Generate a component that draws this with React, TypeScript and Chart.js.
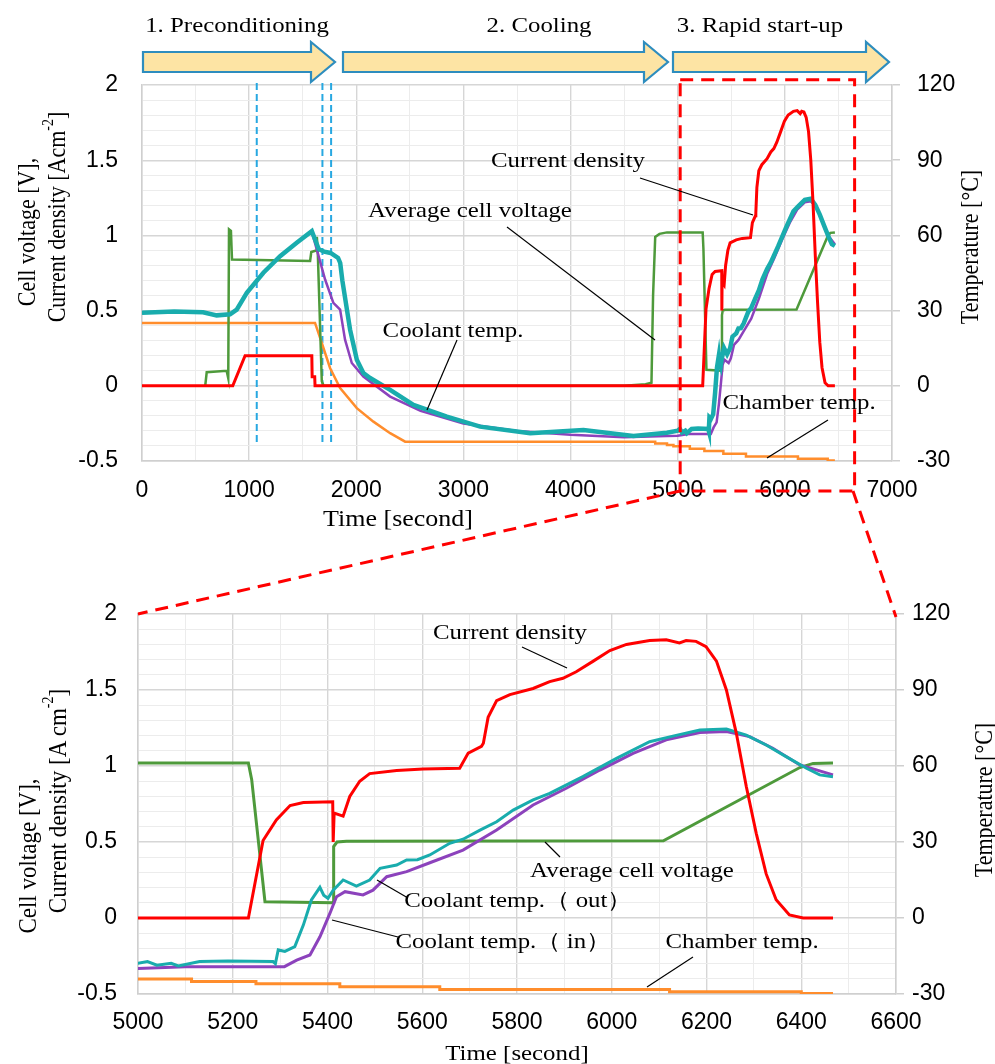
import React, { useEffect, useRef } from "react";
import { Chart, registerables } from "chart.js";

Chart.register(...registerables);

type P = [number, number];

// time [s], current density [A cm-2]
const currentDensity: P[] = [
  [0, 0], [847, 0], [962, 0.2], [1585, 0.2], [1588, 0.06], [1612, 0.06], [1615, 0],
  [5233, 0], [5247, 0.23], [5264, 0.51], [5292, 0.645], [5321, 0.74], [5349, 0.76],
  [5411, 0.765], [5412, 0.5], [5414, 0.69], [5433, 0.67], [5447, 0.8], [5468, 0.9],
  [5489, 0.95], [5546, 0.97], [5602, 0.98], [5679, 0.985], [5697, 1.085], [5725, 1.13],
  [5729, 1.15], [5739, 1.32], [5757, 1.43], [5785, 1.47], [5834, 1.51], [5869, 1.555],
  [5897, 1.577], [5925, 1.62], [5961, 1.69], [5996, 1.76], [6031, 1.8], [6080, 1.825],
  [6115, 1.83], [6143, 1.81], [6157, 1.825], [6178, 1.82], [6199, 1.785], [6221, 1.69],
  [6242, 1.5], [6263, 1.215], [6284, 0.865], [6305, 0.557], [6326, 0.29], [6347, 0.12],
  [6375, 0.02], [6404, 0], [6467, 0],
];

// time [s], average cell voltage [V]
const cellVoltage: P[] = [
  [590, 0], [604, 0.09], [790, 0.1], [805, 0.05], [812, 1.04], [830, 1.03], [840, 0.84],
  [1569, 0.83], [1580, 0.89], [1625, 0.9], [1632, 0.99], [1640, 0.9], [1678, 0.03],
  [1695, 0], [4500, 0], [4700, 0.01], [4755, 0.02], [4770, 0.6], [4790, 0.99],
  [4830, 1.01], [4900, 1.02], [5233, 1.02], [5240, 0.91], [5268, 0.107], [5412, 0.1],
  [5413, 0.47], [5420, 0.5], [5440, 0.505], [6109, 0.508], [6397, 0.99], [6425, 1.017],
  [6467, 1.02],
];

// time [s], coolant temperature (out) [°C]
const coolantOut: P[] = [
  [0, 29.1], [300, 29.6], [570, 29.3], [697, 28.1], [822, 28.5], [884, 30.4], [978, 37.1],
  [1133, 45.1], [1289, 51.7], [1444, 57.1], [1585, 61.7], [1650, 54.5], [1700, 53.5],
  [1760, 53], [1830, 51], [1850, 49], [1870, 42], [1942, 22.4], [2005, 10.4], [2066, 5.1],
  [2129, 3.1], [2316, -1.6], [2533, -7.6], [2845, -12.3], [3156, -16.3], [3623, -18.9],
  [4120, -17.6], [4587, -20], [4899, -18.7],
  [5000, -17.9], [5020, -17.2], [5040, -18.6], [5070, -17.9], [5085, -18.9], [5130, -17.2],
  [5190, -17.0], [5285, -17.2], [5290, -18], [5296, -12.6], [5310, -13.2], [5331, -11.3],
  [5349, -2.8], [5366, 7.1], [5384, 12.1], [5392, 9], [5401, 7.8], [5412, 11.0],
  [5433, 15.0], [5461, 12.6], [5489, 15], [5511, 19.6], [5546, 20.9], [5567, 22.9],
  [5590, 23], [5616, 24.9], [5658, 29.5], [5686, 31.1], [5722, 34.7], [5757, 38.0],
  [5792, 42.6], [5834, 46.6], [5869, 49.2], [5939, 55.8], [6010, 63.0], [6080, 69.6],
  [6129, 71.8], [6186, 74.2], [6242, 74.6], [6284, 72.2], [6326, 68.3], [6368, 63.7],
  [6411, 59.1], [6439, 56.5], [6467, 55.8],
];

// time [s], coolant temperature (in) [°C]
const coolantIn: P[] = [
  [0, 29.1], [300, 29.6], [570, 29.3], [697, 28.1], [822, 28.5], [884, 30.4], [978, 37.1],
  [1133, 45.1], [1289, 51.7], [1444, 57.1], [1585, 61.5], [1631, 54.4], [1709, 42.4],
  [1786, 33.1], [1849, 30.4], [1895, 18.4], [1958, 9.1], [2066, 3.7], [2316, -4.3],
  [2600, -10], [3000, -15], [3500, -18], [4000, -19.5], [4500, -20.5], [4900, -20],
  [5000, -19.9], [5100, -19.2], [5309, -19.2], [5335, -16.6], [5363, -14.6], [5384, -7.4],
  [5405, 1.8], [5419, 8.4], [5437, 10.4], [5475, 9.1], [5496, 11.0], [5525, 16.3],
  [5567, 18.3], [5616, 21.8], [5686, 26.8], [5757, 34.7], [5834, 44.6], [5904, 51.2],
  [5975, 58.4], [6045, 65], [6115, 70.3], [6186, 73.2], [6242, 73.6], [6291, 71.6],
  [6340, 67], [6397, 60.4], [6467, 56.5],
];

// time [s], chamber temperature [°C]
const chamberTemp: P[] = [
  [0, 25.1], [1615, 25.1], [1678, 17.1], [1755, 7.1], [1849, -0.9], [2005, -8.9],
  [2160, -14.3], [2316, -18.9], [2456, -22.3], [4790, -22.3], [4790, -23.0], [4900, -23.0],
  [4900, -23.6], [4960, -23.6], [4960, -24.1], [5113, -24.1], [5113, -25.1], [5249, -25.1],
  [5249, -26.0], [5426, -26.0], [5426, -27.1], [5637, -27.1], [5637, -28.2], [6122, -28.2],
  [6122, -29.1], [6400, -29.1], [6400, -29.8], [6467, -29.8],
];

// axis ranges / ticks
const leftRange = [-0.5, 2];
const rightRange = [-30, 120];
const topTimeRange = [0, 7000];
const bottomTimeRange = [5000, 6600];

// markers in the overview chart
const markerTimes = [1071, 1684, 1765];
const zoomWindow = [5023, 6651];

const RED = "#FF0000";
const GREEN = "#4E9A3B";
const CYAN = "#19ACAD";
const PURPLE = "#8C42BC";
const ORANGE = "#FF8D2C";
const GRID_MAJOR = "#d6d6d6";
const GRID_MINOR = "#ececec";
const SANS = "'Liberation Sans', Arial, Helvetica, sans-serif";
const SERIF = "'Liberation Serif', 'Times New Roman', serif";

type Opts = {
  xMin: number; xMax: number; xStep: number; xMajor: number;
  padTop: number; xH: number; leftW: number; rightW: number;
  xPad: number; yPad: number; y2Pad: number;
  w: { red: number; cyan: number; purple: number; green: number; orange: number };
  plugins?: any[];
};

const isMajorY = (v: number) => Math.abs(v * 2 - Math.round(v * 2)) < 1e-6;

function buildChart(canvas: HTMLCanvasElement, o: Opts) {
  const toXY = (a: P[]) => a.map(([x, y]) => ({ x, y }));
  const ds = (label: string, data: P[], color: string, width: number, axis: string) => ({
    label, data: toXY(data), borderColor: color, backgroundColor: color,
    borderWidth: width, pointRadius: 0, pointHoverRadius: 0, tension: 0,
    yAxisID: axis, fill: false,
  });
  const tickFont = { family: SANS, size: 23 };
  return new Chart(canvas, {
    type: "line",
    data: {
      datasets: [
        ds("Current density", currentDensity, RED, o.w.red, "y"),
        ds("Coolant temp. (out)", coolantOut, CYAN, o.w.cyan, "y2"),
        ds("Coolant temp. (in)", coolantIn, PURPLE, o.w.purple, "y2"),
        ds("Average cell voltage", cellVoltage, GREEN, o.w.green, "y"),
        ds("Chamber temp.", chamberTemp, ORANGE, o.w.orange, "y2"),
      ] as any,
    },
    options: {
      responsive: false,
      animation: false,
      events: [],
      layout: { padding: { top: o.padTop, left: 0, right: 0, bottom: 0 } },
      plugins: { legend: { display: false }, tooltip: { enabled: false } },
      scales: {
        x: {
          type: "linear",
          min: o.xMin, max: o.xMax,
          afterFit: (s: any) => { s.height = o.xH; },
          ticks: {
            stepSize: o.xStep, autoSkip: false, maxRotation: 0, minRotation: 0,
            padding: o.xPad, font: tickFont, color: "#000",
            callback: (v: any) => (Math.round(v) % o.xMajor === 0 ? String(Math.round(v)) : ""),
          },
          grid: {
            drawTicks: false,
            color: (c: any) => (Math.round(c.tick?.value ?? 0) % o.xMajor === 0 ? GRID_MAJOR : GRID_MINOR),
            lineWidth: (c: any) => (Math.round(c.tick?.value ?? 0) % o.xMajor === 0 ? 1.4 : 1),
          },
          border: { display: true, color: "#cfcfcf", width: 1.5 },
        },
        y: {
          type: "linear", position: "left",
          min: leftRange[0], max: leftRange[1],
          afterFit: (s: any) => { s.width = o.leftW; },
          ticks: {
            stepSize: 0.1, autoSkip: false, padding: o.yPad, font: tickFont, color: "#000",
            callback: (v: any) => {
              const r = Math.round(Number(v) * 10);
              return r % 5 === 0 ? String(r / 10) : "";
            },
          },
          grid: {
            drawTicks: false,
            color: (c: any) => (isMajorY(c.tick?.value ?? 0) ? GRID_MAJOR : GRID_MINOR),
            lineWidth: (c: any) => (isMajorY(c.tick?.value ?? 0) ? 1.4 : 1),
          },
          border: { display: true, color: "#cfcfcf", width: 1.5 },
        },
        y2: {
          type: "linear", position: "right",
          min: rightRange[0], max: rightRange[1],
          afterFit: (s: any) => { s.width = o.rightW; },
          ticks: { stepSize: 30, autoSkip: false, padding: o.y2Pad, font: tickFont, color: "#000" },
          grid: { drawOnChartArea: false, drawTicks: true, tickLength: 8, color: "#cfcfcf", lineWidth: 1.5 },
          border: { display: true, color: "#cfcfcf", width: 1.5 },
        },
      },
    } as any,
    plugins: o.plugins || [],
  });
}

const overviewMarks = {
  id: "overviewMarks",
  beforeDatasetsDraw(chart: any) {
    const { ctx, scales } = chart;
    const x = scales.x, y = scales.y;
    ctx.save();
    ctx.strokeStyle = "#27A8E1";
    ctx.lineWidth = 2;
    ctx.setLineDash([7, 4]);
    markerTimes.forEach((t) => {
      const px = x.getPixelForValue(t);
      ctx.beginPath();
      ctx.moveTo(px, y.getPixelForValue(2.013));
      ctx.lineTo(px, y.getPixelForValue(-0.39));
      ctx.stroke();
    });
    ctx.restore();
  },
  afterDraw(chart: any) {
    const { ctx, scales } = chart;
    const x = scales.x, y = scales.y;
    const l = x.getPixelForValue(zoomWindow[0]);
    const r = x.getPixelForValue(zoomWindow[1]);
    const t = y.getPixelForValue(2.035);
    const b = y.getPixelForValue(-0.7);
    ctx.save();
    ctx.strokeStyle = RED;
    ctx.lineWidth = 3;
    ctx.setLineDash([13, 8]);
    ctx.strokeRect(l, t, r - l, b - t);
    ctx.restore();
  },
};

function T(props: { x: number; y: number; size?: number; sx?: number; children: any }) {
  const { x, y, size = 22, sx = 1.13, children } = props;
  return (
    <text
      transform={`translate(${x} ${y}) scale(${sx} 1)`}
      textAnchor="middle"
      dominantBaseline="central"
      fontFamily={SERIF}
      fontSize={size}
      fill="#000"
    >
      {children}
    </text>
  );
}

function VT(props: { x: number; y: number; size?: number; children: any }) {
  const { x, y, size = 22, children } = props;
  return (
    <text
      transform={`translate(${x} ${y}) rotate(-90) scale(1 1.12)`}
      textAnchor="middle"
      dominantBaseline="central"
      fontFamily={SERIF}
      fontSize={size}
      fill="#000"
    >
      {children}
    </text>
  );
}

const arrowPts = (x0: number, x1: number, tip: number) =>
  `${x0},52 ${x1},52 ${x1},42 ${tip},62 ${x1},82 ${x1},72 ${x0},72`;

export default function App() {
  const topRef = useRef<HTMLCanvasElement>(null);
  const botRef = useRef<HTMLCanvasElement>(null);

  useEffect(() => {
    const c1 = buildChart(topRef.current!, {
      xMin: topTimeRange[0], xMax: topTimeRange[1], xStep: 500, xMajor: 1000,
      padTop: 85, xH: 540 - 461, leftW: 142, rightW: 995 - 892,
      xPad: 16, yPad: 24, y2Pad: 17,
      w: { red: 3, cyan: 4.5, purple: 2.5, green: 2.5, orange: 2.5 },
      plugins: [overviewMarks],
    });
    const c2 = buildChart(botRef.current!, {
      xMin: bottomTimeRange[0], xMax: bottomTimeRange[1], xStep: 100, xMajor: 200,
      padTop: 614 - 540, xH: 524 - (994 - 540), leftW: 138, rightW: 995 - 896,
      xPad: 15, yPad: 21, y2Pad: 8,
      w: { red: 3, cyan: 3, purple: 3, green: 3, orange: 3 },
    });
    return () => {
      c1.destroy();
      c2.destroy();
    };
  }, []);

  return (
    <div style={{ position: "absolute", left: 0, top: 0, width: 995, height: 1064, background: "#fff", overflow: "hidden" }}>
      <canvas ref={topRef} width={995} height={540} style={{ position: "absolute", left: 0, top: 0, width: 995, height: 540 }} />
      <canvas ref={botRef} width={995} height={524} style={{ position: "absolute", left: 0, top: 540, width: 995, height: 524 }} />
      <svg width={995} height={1064} style={{ position: "absolute", left: 0, top: 0, pointerEvents: "none" }}>
        {/* phase arrows */}
        <g fill="#FDE4A4" stroke="#2E8DBE" strokeWidth={2.2} strokeLinejoin="miter">
          <polygon points={arrowPts(143, 311, 335)} />
          <polygon points={arrowPts(343, 644, 668)} />
          <polygon points={arrowPts(673, 866, 889)} />
        </g>
        <T x={237} y={25}>1. Preconditioning</T>
        <T x={539} y={25}>2. Cooling</T>
        <T x={760} y={25}>3. Rapid start-up</T>

        {/* zoom connectors */}
        <g stroke={RED} strokeWidth={3} strokeDasharray="13 8" fill="none">
          <line x1={680} y1={491} x2={138} y2={614} />
          <line x1={853} y1={491} x2={896} y2={617} />
        </g>

        {/* leader lines */}
        <g stroke="#000" strokeWidth={1.2}>
          <line x1={640} y1={178} x2={753} y2={215} />
          <line x1={507} y1={227} x2={655} y2={340} />
          <line x1={457} y1={340} x2={427} y2={410} />
          <line x1={828} y1={420} x2={767} y2={458} />
          <line x1={522} y1={647} x2={567} y2={668} />
          <line x1={545} y1={842} x2={560} y2={857} />
          <line x1={377} y1={880} x2={408} y2={898} />
          <line x1={332} y1={920} x2={398} y2={937} />
          <line x1={693} y1={957} x2={647} y2={987} />
        </g>

        {/* top chart annotations */}
        <T x={568} y={160}>Current density</T>
        <T x={470} y={210}>Average cell voltage</T>
        <T x={453} y={330}>Coolant temp.</T>
        <T x={799} y={402}>Chamber temp.</T>

        {/* bottom chart annotations */}
        <T x={510} y={632}>Current density</T>
        <T x={632} y={870}>Average cell voltage</T>
        <T x={518} y={900}>Coolant temp.（ out）</T>
        <T x={503} y={941}>Coolant temp.（ in）</T>
        <T x={742} y={941}>Chamber temp.</T>

        {/* axis titles, top chart */}
        <T x={398} y={518} size={23}>Time [second]</T>
        <VT x={27} y={232}>Cell voltage [V],</VT>
        <VT x={57} y={217}>
          Current density [Acm<tspan fontSize={14} dy={-8}>-2</tspan><tspan dy={8}>]</tspan>
        </VT>
        <VT x={970} y={247}>Temperature [°C]</VT>

        {/* axis titles, bottom chart */}
        <T x={517} y={1053}>Time [second]</T>
        <VT x={27} y={856} size={23}>Cell voltage [V],</VT>
        <VT x={57} y={801} size={23}>
          Current density [A cm<tspan fontSize={14} dy={-8}>-2</tspan><tspan dy={8}>]</tspan>
        </VT>
        <VT x={984} y={800}>Temperature [°C]</VT>
      </svg>
    </div>
  );
}
